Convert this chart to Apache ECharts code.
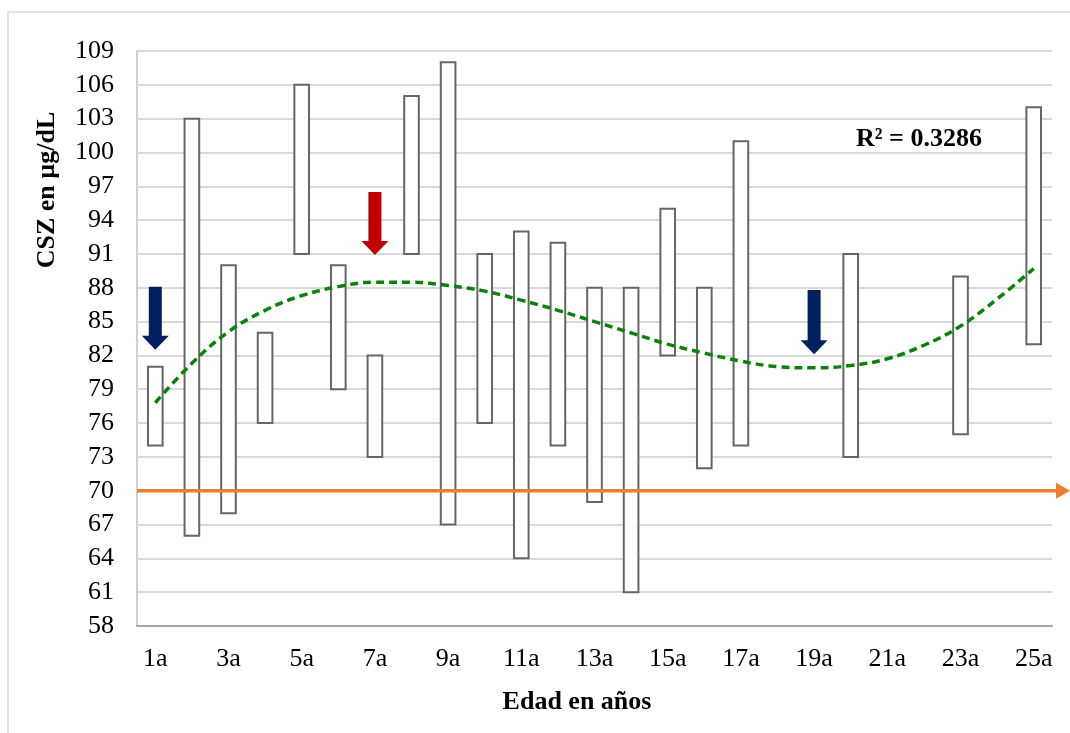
<!DOCTYPE html>
<html>
<head>
<meta charset="utf-8">
<script src="https://cdn.jsdelivr.net/npm/echarts@6/dist/echarts.min.js"></script>
<style>
  html, body { margin: 0; padding: 0; background: #fff; }
  #main { width: 1070px; height: 733px; }
</style>
</head>
<body>
<div id="main"></div>
<script>
// Ages (categories)
const ages = ['1a','2a','3a','4a','5a','6a','7a','8a','9a','10a','11a','12a','13a',
              '14a','15a','16a','17a','18a','19a','20a','21a','22a','23a','24a','25a'];
// Range of CSZ per age (µg/dL): minimum and maximum
const lows  = [74, 66, 68, 76, 91, 79, 73, 91, 67, 76, 64, 74, 69, 61, 82, 72, 74, null, null, 73, null, null, 75, null, 83];
const highs = [81, 103, 90, 84, 106, 90, 82, 105, 108, 91, 93, 92, 88, 88, 95, 88, 101, null, null, 91, null, null, 89, null, 104];
// Polynomial trend line values per age
const trend = [77.8, 81.3, 84.1, 86.0, 87.3, 88.1, 88.5, 88.5, 88.2, 87.7, 86.9, 86.0, 85.0,
               84.0, 83.0, 82.2, 81.5, 81.0, 80.9, 81.1, 81.7, 82.9, 84.6, 87.0, 89.7];
const r2Text = 'R² = 0.3286';
// Reference threshold (µg/dL)
const threshold = 70;
// Highlight arrows: age, top value, tip value
const arrowAges = ['1a', '7a', '19a'];
const arrowTops = [88.1, 96.5, 87.8];
const arrowTips = [82.5, 90.9, 82.1];
// Y-axis ticks
const yMin = 58, yMax = 109, yStep = 3;

const ARROW_COLORS = ['#002060', '#C00000', '#002060'];
const FONT = "'Liberation Serif', 'Times New Roman', serif";

const chart = echarts.init(document.getElementById('main'));

const rangeData = [];
ages.forEach((a, i) => {
  if (lows[i] != null && highs[i] != null) rangeData.push([i, lows[i], highs[i]]);
});
const arrowData = arrowAges.map((a, i) => [ages.indexOf(a), arrowTops[i], arrowTips[i], i]);

const option = {
  animation: false,
  backgroundColor: '#ffffff',
  grid: { left: 137, right: 18, top: 51, bottom: 107 },
  xAxis: {
    type: 'category',
    data: ages,
    boundaryGap: true,
    axisLine: { lineStyle: { color: '#a6a6a6', width: 2 } },
    axisTick: { show: false },
    axisLabel: { interval: 1, fontFamily: FONT, fontSize: 26, color: '#000', margin: 20 },
    splitLine: { show: false }
  },
  yAxis: {
    type: 'value',
    min: yMin, max: yMax, interval: yStep,
    axisLine: { show: true, lineStyle: { color: '#d0d0d0', width: 2 } },
    axisTick: { show: false },
    axisLabel: { fontFamily: FONT, fontSize: 26, color: '#000', margin: 23 },
    splitLine: { lineStyle: { color: '#d9d9d9', width: 2 } }
  },
  series: [
    {
      name: 'Rango',
      type: 'custom',
      data: rangeData,
      encode: { x: 0, y: [1, 2] },
      z: 2,
      renderItem: function (params, api) {
        const lo = api.coord([api.value(0), api.value(1)]);
        const hi = api.coord([api.value(0), api.value(2)]);
        const w = api.size([1, 0])[0] * 0.4;
        return {
          type: 'rect',
          shape: { x: lo[0] - w / 2, y: hi[1], width: w, height: lo[1] - hi[1] },
          style: { fill: '#ffffff', stroke: '#666666', lineWidth: 2 }
        };
      }
    },
    {
      name: 'Tendencia',
      type: 'line',
      data: trend,
      smooth: 0.4,
      showSymbol: false,
      z: 4,
      lineStyle: { color: '#088208', width: 3.5, type: [8, 5] }
    },
    {
      name: 'Flechas',
      type: 'custom',
      data: arrowData,
      encode: { x: 0, y: [1, 2] },
      z: 5,
      renderItem: function (params, api) {
        const top = api.coord([api.value(0), api.value(1)]);
        const tip = api.coord([api.value(0), api.value(2)]);
        const c = top[0], t = top[1], p = tip[1];
        const sw = 6.5, hw = 13.5, hh = 14;
        return {
          type: 'polygon',
          shape: { points: [[c - sw, t], [c + sw, t], [c + sw, p - hh], [c + hw, p - hh], [c, p], [c - hw, p - hh], [c - sw, p - hh]] },
          style: { fill: ARROW_COLORS[api.value(3)] }
        };
      }
    }
  ],
  graphic: [
    {
      id: 'frame', type: 'rect', z: -1, silent: true,
      shape: { x: 8, y: 12, width: 1100, height: 760 },
      style: { fill: 'none', stroke: '#d9d9d9', lineWidth: 1.5 }
    },
    {
      id: 'yName', type: 'text', x: 47, y: 190, rotation: Math.PI / 2,
      style: { text: 'CSZ en µg/dL', font: "bold 26px " + FONT, fill: '#000', align: 'center', verticalAlign: 'middle' }
    },
    {
      id: 'xName', type: 'text', x: 577, y: 702,
      style: { text: 'Edad en años', font: "bold 26px " + FONT, fill: '#000', align: 'center', verticalAlign: 'middle' }
    },
    {
      id: 'r2', type: 'text', x: 856, y: 139,
      style: { text: r2Text, font: "bold 26px " + FONT, fill: '#000', align: 'left', verticalAlign: 'middle' }
    }
  ]
};

chart.setOption(option);

// Threshold line at 70 µg/dL, running past the plot to the right edge with an arrowhead
const yT = chart.convertToPixel({ yAxisIndex: 0 }, threshold);
const gridRect = chart.getModel().getComponent('grid').coordinateSystem.getRect();
chart.setOption({
  graphic: [
    {
      id: 'thresholdLine', type: 'line', z: 10, silent: true,
      shape: { x1: gridRect.x, y1: yT, x2: 1058, y2: yT },
      style: { stroke: '#ED7D31', lineWidth: 3.5 }
    },
    {
      id: 'thresholdHead', type: 'polygon', z: 10, silent: true,
      shape: { points: [[1056, yT - 8], [1070, yT], [1056, yT + 8]] },
      style: { fill: '#ED7D31' }
    }
  ]
});
</script>
</body>
</html>
